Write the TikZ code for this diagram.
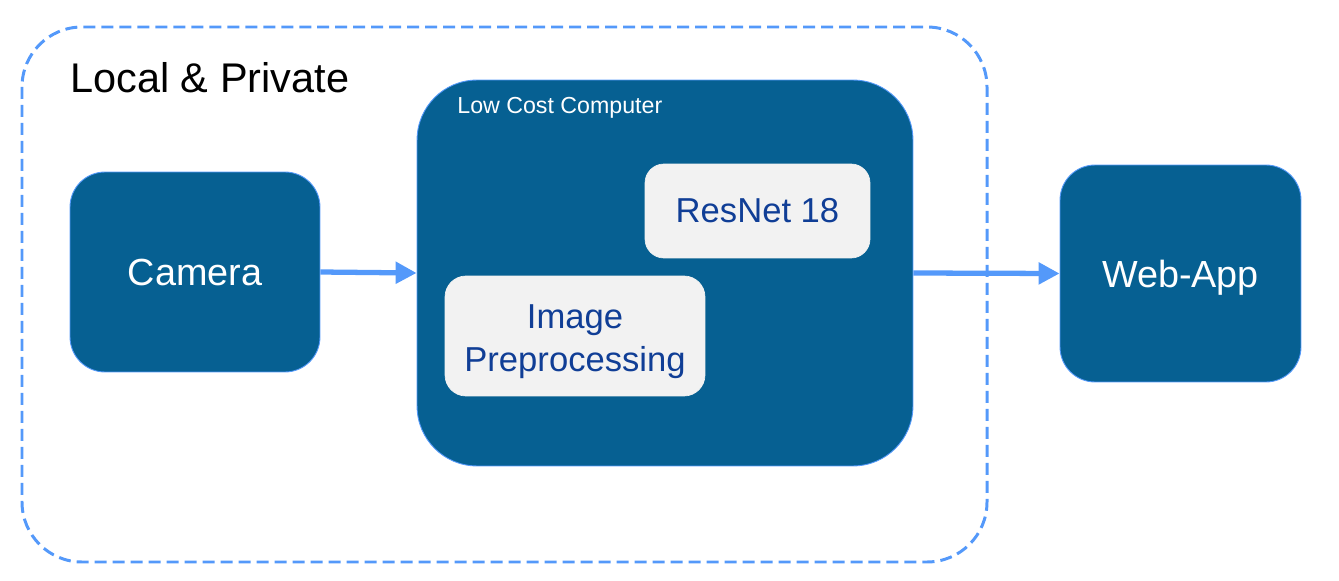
\documentclass[tikz,border=0pt]{standalone}
\usepackage{fontspec}
\setmainfont{Liberation Sans}
\usetikzlibrary{arrows.meta}
\definecolor{boxblue}{RGB}{6,96,146}
\definecolor{lineblue}{RGB}{84,153,250}
\definecolor{textblue}{RGB}{16,62,150}
\definecolor{innergray}{RGB}{242,242,242}
\tikzset{
	darkbox/.style={draw=lineblue, line width=0.5pt, fill=boxblue, text=white, rounded corners=0.7cm, text height=15.5pt, text depth=0pt, font=\fontsize{21.5}{26}\selectfont},
	lightbox/.style={draw=innergray, fill=innergray, text=textblue, rounded corners=0.38cm, align=center, font=\fontsize{19.7}{24.5}\selectfont},
	flowarrow/.style={draw=lineblue, line width=3pt, -{Triangle[length=0.42cm, width=0.42cm]}}
}

\begin{document}
\begin{tikzpicture}[x=0.02cm, y=-0.02cm]
			%%%%% START %%%%%
			\useasboundingbox (0, 0) rectangle (1339, 581);
			
			\draw[lineblue, line width=1.7pt, dash pattern=on 0.24cm off 0.12cm, rounded corners=1.2cm] (22, 27) rectangle (987, 562);
			\node[anchor=base west, inner sep=0, font=\fontsize{23.6}{28}\selectfont] (region) at (70, 92) {Local \& Private};
			
			\node[darkbox, minimum width=5cm, minimum height=4cm] (camera) at (195, 272) {Camera};
			
			\node[darkbox, minimum width=9.92cm, minimum height=7.72cm, rounded corners=1.2cm] (computer) at (665, 273) {};
			\node[anchor=base west, inner sep=0, text=white, font=\fontsize{13.2}{15}\selectfont] (computerlabel) at (457, 113) {Low Cost Computer};
			
			\node[lightbox, minimum width=4.5cm, minimum height=1.88cm] (resnet) at (757.5, 211) {ResNet 18};
			\node[lightbox, minimum width=5.2cm, minimum height=2.4cm, rounded corners=0.42cm] (preproc) at (575, 336) {\raisebox{-3pt}[\height][\depth]{\begin{tabular}{@{}c@{}}Image\\Preprocessing\end{tabular}}};
			
			\node[darkbox, minimum width=4.82cm, minimum height=4.34cm] (webapp) at (1180.5, 273.5) {Web-App};
			
			\draw[flowarrow] (camera.east) -- (computer.west);
			\draw[flowarrow] (computer.east) -- (webapp.west);
			%%%%% END %%%%%
\end{tikzpicture}
\end{document}
